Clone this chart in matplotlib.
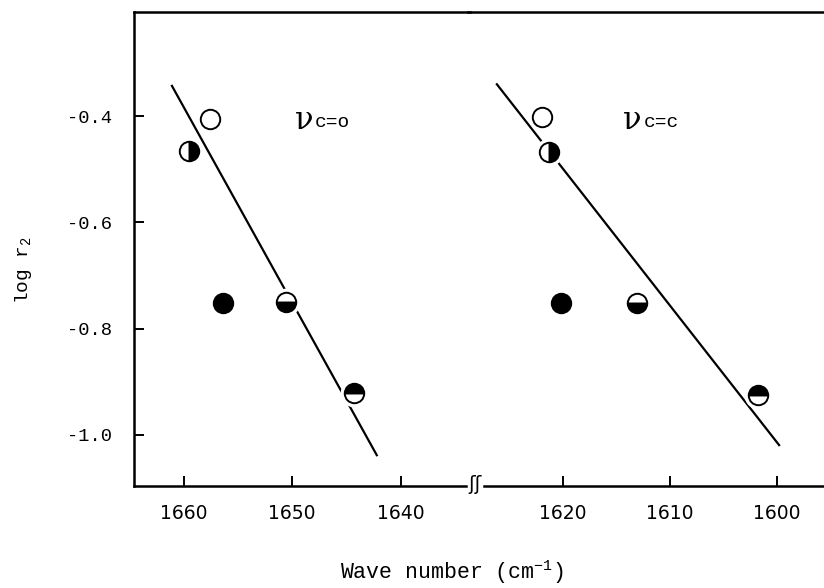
import matplotlib
matplotlib.use('Agg')
import matplotlib.pyplot as plt

plt.rcParams['font.family'] = ['Liberation Mono', 'DejaVu Sans']
plt.rcParams['mathtext.default'] = 'regular'

# C=O stretching band (left panel)
co_wave = [1657.6, 1659.5, 1656.4, 1650.6, 1644.3]
co_logr = [-0.405, -0.466, -0.751, -0.750, -0.921]
co_fit_x = [1661.1, 1642.2]
co_fit_y = [-0.343, -1.038]

# C=C stretching band (right panel)
cc_wave = [1622.0, 1621.3, 1620.2, 1613.1, 1601.8]
cc_logr = [-0.402, -0.468, -0.751, -0.751, -0.925]
cc_fit_x = [1626.2, 1599.8]
cc_fit_y = [-0.340, -1.019]

# marker style per compound: open, right-half, full, bottom-half, top-half
fills = ['none', 'right', 'full', 'bottom', 'top']

yticks = [-0.4, -0.6, -0.8, -1.0]
ytick_labels = ['-0.4', '-0.6', '-0.8', '-1.0']
left_ticks = [1660, 1650, 1640]
right_ticks = [1620, 1610, 1600]

fig = plt.figure(figsize=(8.24, 5.88), dpi=100)
W, H = 824, 588
bot, top = 1 - 486 / H, 1 - 12 / H
ax1 = fig.add_axes([134 / W, bot, (470 - 134) / W, top - bot])
ax2 = fig.add_axes([468 / W, bot, (824 - 468) / W, top - bot], sharey=ax1)


def draw_points(ax, xs, ys):
    for x, y, f in zip(xs, ys, fills):
        # white halo so the fit line stops short of the symbol
        ax.plot(x, y, 'o', ms=19, mfc='white', mec='white', zorder=2)
        if f == 'none':
            ax.plot(x, y, 'o', ms=14, mfc='white', mec='black', mew=1.4, zorder=3)
        elif f == 'full':
            ax.plot(x, y, 'o', ms=14, mfc='black', mec='black', mew=1.4, zorder=3)
        else:
            ax.plot(x, y, 'o', ms=14, fillstyle=f, mfc='black', mfcalt='white',
                    mec='black', mew=1.4, zorder=3)


ax1.plot(co_fit_x, co_fit_y, color='black', lw=1.6, zorder=1)
ax2.plot(cc_fit_x, cc_fit_y, color='black', lw=1.6, zorder=1)
draw_points(ax1, co_wave, co_logr)
draw_points(ax2, cc_wave, cc_logr)

ax1.set_xlim(1664.6, 1633.6)
ax2.set_xlim(1628.9, 1595.6)
ax1.set_ylim(-1.096, -0.204)

for ax in (ax1, ax2):
    ax.patch.set_visible(False)
    ax.spines['right'].set_visible(False)
    for s in ax.spines.values():
        s.set_linewidth(1.8)
    ax.tick_params(direction='in', length=7, width=1.4)
    ax.tick_params(axis='x', labelsize=13.5, pad=13)
ax2.spines['left'].set_visible(False)
ax2.tick_params(axis='y', left=False, labelleft=False)

ax1.spines['bottom'].set_bounds(1664.6, 1634.0)
ax2.spines['bottom'].set_bounds(1627.4, 1595.6)

ax1.set_xticks(left_ticks)
ax1.set_xticklabels([str(t) for t in left_ticks], family='DejaVu Sans')
ax2.set_xticks(right_ticks)
ax2.set_xticklabels([str(t) for t in right_ticks], family='DejaVu Sans')
ax1.set_yticks(yticks)
ax1.set_yticklabels(ytick_labels, fontsize=13.5)
ax1.tick_params(axis='y', pad=16)

# axis break mark
fig.text(475 / W, bot + 0.002, 'ʃʃ', family='DejaVu Sans', fontsize=14,
         ha='center', va='center')

# band labels
ax1.text(1649.0, -0.408, r'$\nu$', fontsize=22, ha='center', va='center',
         family='DejaVu Serif')
ax1.text(1647.9, -0.412, 'c=o', fontsize=14, ha='left', va='center')
ax2.text(1613.6, -0.408, r'$\nu$', fontsize=22, ha='center', va='center',
         family='DejaVu Serif')
ax2.text(1612.5, -0.412, 'c=c', fontsize=14, ha='left', va='center')

fig.text(24 / W, 1 - 270 / H, 'log r$_2$', rotation=90, fontsize=14,
         ha='center', va='center')
fig.text(452 / W, 1 - 572 / H, 'Wave number (cm$^{-1}$)', fontsize=15.5,
         ha='center', va='center')

plt.savefig('out.png', dpi=100)
